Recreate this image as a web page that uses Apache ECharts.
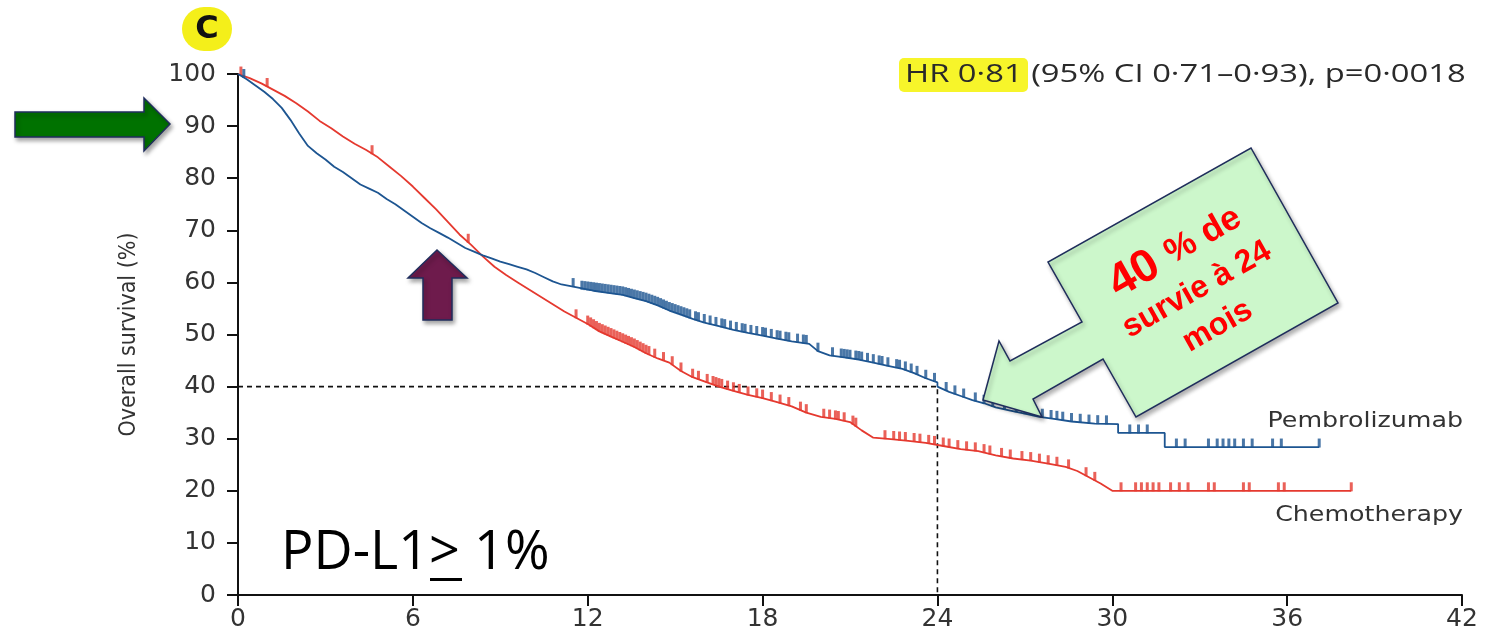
<!DOCTYPE html>
<html>
<head>
<meta charset="utf-8">
<script src="https://cdn.jsdelivr.net/npm/echarts@6/dist/echarts.min.js"></script>
<style>
  html, body { margin: 0; padding: 0; background: #ffffff; }
  #chart { width: 1491px; height: 639px; }
</style>
</head>
<body>
<div id="chart"></div>
<script>
// Kaplan-Meier overall survival, PD-L1 >= 1% population
const xTicks = [0, 6, 12, 18, 24, 30, 36, 42];
const yTicks = [0, 10, 20, 30, 40, 50, 60, 70, 80, 90, 100];

// [month, survival %]; repeated months mark visible vertical drops
const pembroCurve = [
  [0, 100], [0.3, 99], [0.6, 97.8], [0.9, 96.6], [1.2, 95.2], [1.5, 93.5], [1.8, 91.2],
  [2.1, 88.6], [2.4, 86.2], [2.7, 84.8], [3.0, 83.6], [3.3, 82.2], [3.6, 81.2], [3.9, 80.0],
  [4.2, 78.8], [4.5, 78.0], [4.8, 77.2], [5.1, 76.0], [5.4, 75.0], [5.7, 73.8], [6.0, 72.6],
  [6.3, 71.4], [6.6, 70.4], [6.9, 69.5], [7.2, 68.6], [7.5, 67.6], [7.8, 66.6], [8.1, 65.9],
  [8.4, 65.2], [8.7, 64.6], [9.0, 64.0], [9.3, 63.5], [9.6, 63.0], [9.9, 62.5], [10.2, 61.8],
  [10.5, 61.0], [10.8, 60.2], [11.1, 59.6], [11.5, 59.2], [11.5, 58.9], [12.2, 58.4],
  [12.7, 58.0], [13.2, 57.6], [13.6, 57.0], [14.0, 56.4], [14.4, 55.6], [14.8, 54.6],
  [15.2, 53.8], [15.6, 53.0], [16.0, 52.3], [16.5, 51.6], [17.0, 50.9], [17.5, 50.3],
  [18.0, 49.8], [18.5, 49.2], [19.0, 48.7], [19.6, 48.2], [19.9, 46.8], [20.3, 46.0],
  [20.8, 45.6], [21.3, 45.2], [21.8, 44.6], [22.3, 44.0], [22.8, 43.4], [23.2, 42.6],
  [23.6, 41.6], [24.0, 40.8], [24.0, 40.0], [24.4, 39.0], [24.8, 38.2], [25.2, 37.4], [25.6, 36.8],
  [26.0, 36.0], [26.5, 35.4], [27.0, 34.8], [27.5, 34.2], [28.0, 33.8], [28.6, 33.3],
  [29.4, 32.9], [30.2, 32.8], [30.2, 31.1], [31.8, 31.1], [31.8, 28.4], [37.1, 28.4]
];

const chemoCurve = [
  [0, 100], [0.4, 99.2], [0.8, 98.2], [1.2, 97.0], [1.6, 95.8], [2.0, 94.4], [2.4, 92.8],
  [2.8, 91.0], [3.2, 89.6], [3.6, 88.0], [4.0, 86.6], [4.4, 85.4], [4.8, 84.0], [5.2, 82.2],
  [5.6, 80.4], [6.0, 78.4], [6.4, 76.2], [6.8, 74.0], [7.2, 71.6], [7.6, 69.2], [8.0, 67.2],
  [8.4, 65.0], [8.8, 63.0], [9.2, 61.4], [9.6, 60.0], [10.0, 58.6], [10.4, 57.2], [10.8, 55.8],
  [11.2, 54.4], [11.6, 53.2], [12.0, 52.0], [12.4, 50.6], [12.8, 49.6], [13.2, 48.6],
  [13.6, 47.6], [14.0, 46.4], [14.4, 45.4], [14.8, 44.6], [15.2, 43.0], [15.6, 41.8],
  [16.0, 41.0], [16.5, 40.0], [17.0, 39.2], [17.5, 38.4], [18.0, 37.8], [18.5, 37.0],
  [19.0, 36.2], [19.5, 35.0], [20.0, 34.2], [20.5, 33.8], [21.0, 33.2], [21.4, 31.6],
  [21.8, 30.2], [22.4, 29.9], [23.0, 29.6], [23.6, 29.2], [24.2, 28.6], [24.8, 28.0],
  [25.4, 27.6], [26.0, 26.8], [26.6, 26.2], [27.2, 25.8], [27.8, 25.2], [28.4, 24.6],
  [28.8, 23.8], [29.2, 22.6], [29.6, 21.4], [30.0, 20.0], [38.2, 20.0]
];

// censoring times (months)
const pembroCensored = [
  0.2, 11.5, 11.8, 11.9, 12.0, 12.1, 12.2, 12.3, 12.4, 12.5, 12.6, 12.7, 12.8, 12.9, 13.0,
  13.1, 13.2, 13.3, 13.4, 13.5, 13.6, 13.7, 13.8, 13.9, 14.0, 14.1, 14.2, 14.3, 14.4, 14.5,
  14.6, 14.7, 14.8, 14.9, 15.0, 15.1, 15.2, 15.3, 15.4, 15.5, 15.7, 15.8, 16.0, 16.2, 16.4,
  16.6, 16.7, 16.9, 17.1, 17.3, 17.4, 17.6, 17.8, 18.0, 18.1, 18.3, 18.5, 18.6, 18.8, 18.9,
  19.2, 19.4, 19.5, 19.9, 20.4, 20.7, 20.8, 20.9, 21.0, 21.2, 21.3, 21.4, 21.6, 21.8, 22.0,
  22.1, 22.3, 22.6, 22.7, 22.9, 23.1, 23.3, 23.6, 23.9, 24.3, 24.6, 24.9, 25.3, 25.6, 25.9,
  26.3, 26.7, 27.0, 27.3, 27.6, 27.9, 28.1, 28.3, 28.6, 28.9, 29.2, 29.5, 29.8, 30.6, 30.9,
  31.2, 32.2, 32.5, 33.3, 33.6, 33.8, 34.0, 34.2, 34.5, 34.8, 35.5, 35.8, 37.1
];
const chemoCensored = [
  0.1, 1.0, 4.6, 7.9, 11.6, 12.0, 12.1, 12.2, 12.3, 12.4, 12.5, 12.6, 12.7, 12.8, 12.9, 13.0,
  13.1, 13.2, 13.3, 13.4, 13.5, 13.6, 13.7, 13.8, 13.9, 14.0, 14.1, 14.3, 14.6, 14.9, 15.2,
  15.6, 15.8, 16.1, 16.3, 16.4, 16.5, 16.6, 16.8, 17.0, 17.2, 17.5, 17.8, 18.0, 18.3, 18.6,
  18.9, 19.3, 19.5, 20.1, 20.3, 20.5, 20.6, 20.8, 21.1, 21.2, 22.2, 22.5, 22.7, 22.9, 23.2,
  23.4, 23.7, 23.9, 24.2, 24.4, 24.7, 25.0, 25.3, 25.6, 25.8, 26.2, 26.5, 26.9, 27.2, 27.5,
  27.8, 28.1, 28.5, 29.1, 29.4, 30.3, 30.8, 31.0, 31.2, 31.4, 31.6, 32.0, 32.3, 32.6, 33.3,
  33.5, 34.5, 34.7, 35.7, 35.9, 38.2
];

// reference guide: 40 % survival at 24 months
const guideMonth = 24;
const guideSurvival = 40;

const BLUE = '#1d5591';
const RED = '#e5392f';
const NAVY = '#1f2d5c';
const TEXT = '#333333';

// position of a censor mark on the drawn curve at time t
function survivalAt(curve, t) {
  let prev = curve[0];
  for (let i = 1; i < curve.length; i++) {
    const cur = curve[i];
    if (cur[0] >= t) {
      if (cur[0] === prev[0]) return cur[1];
      const f = (t - prev[0]) / (cur[0] - prev[0]);
      return prev[1] + f * (cur[1] - prev[1]);
    }
    prev = cur;
  }
  return prev[1];
}
const censorPoints = (curve, times) => times.map(t => [t, survivalAt(curve, t)]);

const chart = echarts.init(document.getElementById('chart'));

const axisCommon = {
  type: 'value',
  axisLine: { show: true, lineStyle: { color: '#111', width: 2 } },
  axisTick: { show: true, inside: false, length: 11, lineStyle: { color: '#111', width: 2 } },
  splitLine: { show: false },
  axisLabel: { color: TEXT, fontSize: 25, fontFamily: 'DejaVu Sans' }
};

const censorStyle = { type: 'scatter', symbol: 'rect', symbolSize: [3, 9], symbolOffset: [0, -4] };

const option = {
  backgroundColor: '#ffffff',
  animation: false,
  grid: { left: 238, right: 29, top: 74, bottom: 44, containLabel: false },
  xAxis: Object.assign({}, axisCommon, {
    min: xTicks[0], max: xTicks[xTicks.length - 1], interval: 6,
    axisLabel: Object.assign({}, axisCommon.axisLabel, { margin: 12 })
  }),
  yAxis: Object.assign({}, axisCommon, {
    min: yTicks[0], max: yTicks[yTicks.length - 1], interval: 10,
    name: 'Overall survival (%)',
    nameLocation: 'middle',
    nameRotate: 90,
    nameGap: 97,
    nameTextStyle: { color: TEXT, fontSize: 23, fontFamily: 'DejaVu Sans Condensed' },
    axisLabel: Object.assign({}, axisCommon.axisLabel, { margin: 22 })
  }),
  series: [
    {
      name: 'guide', type: 'line', z: 1, symbol: 'none', silent: true,
      data: [[0, guideSurvival], [guideMonth, guideSurvival], [guideMonth, 0]],
      lineStyle: { color: '#111', width: 1.6, type: [5, 4] }
    },
    {
      name: 'Chemotherapy', type: 'line', z: 3, symbol: 'none',
      data: chemoCurve, lineStyle: { color: RED, width: 1.8 }
    },
    {
      name: 'Pembrolizumab', type: 'line', z: 4, symbol: 'none',
      data: pembroCurve, lineStyle: { color: BLUE, width: 1.8 }
    },
    Object.assign({ name: 'Chemotherapy censored', z: 3, itemStyle: { color: RED },
      data: censorPoints(chemoCurve, chemoCensored) }, censorStyle),
    Object.assign({ name: 'Pembrolizumab censored', z: 4, itemStyle: { color: BLUE },
      data: censorPoints(pembroCurve, pembroCensored) }, censorStyle)
  ],
  graphic: [
    // panel letter
    { type: 'rect', shape: { x: 182, y: 7, width: 50, height: 44, r: 22 },
      style: { fill: '#f4ef1a' }, z: 10 },
    { type: 'text', x: 207, y: 30, z: 11,
      style: { text: 'C', font: 'bold 32px "DejaVu Sans"', fill: '#111',
        textAlign: 'center', textVerticalAlign: 'middle' } },

    // hazard ratio
    { type: 'rect', shape: { x: 899, y: 58, width: 129, height: 34, r: 5 },
      style: { fill: '#f7f52a' }, z: 10 },
    { type: 'text', x: 905, y: 75, scaleX: 1.31, z: 11,
      style: { text: 'HR 0·81 (95% CI 0·71–0·93), p=0·0018', font: '25px "Open Sans"', fill: '#2a2a2a',
        textAlign: 'left', textVerticalAlign: 'middle' } },

    // curve labels
    { type: 'text', x: 1463, y: 421, scaleX: 1.15, z: 11,
      style: { text: 'Pembrolizumab', font: '22px "DejaVu Sans"', fill: TEXT,
        textAlign: 'right', textVerticalAlign: 'middle' } },
    { type: 'text', x: 1463, y: 515, scaleX: 1.15, z: 11,
      style: { text: 'Chemotherapy', font: '22px "DejaVu Sans"', fill: TEXT,
        textAlign: 'right', textVerticalAlign: 'middle' } },

    // population label
    { type: 'text', x: 281, y: 554, z: 11,
      style: { text: 'PD-L1> 1%', font: '54px "Open Sans"', fill: '#000',
        textAlign: 'left', textVerticalAlign: 'middle' } },
    { type: 'rect', shape: { x: 430, y: 578, width: 32, height: 3 },
      style: { fill: '#000' }, z: 11 },

    // green arrow toward 90 %
    { type: 'polygon', z: 12,
      shape: { points: [[15, 112], [144, 112], [144, 98], [170, 124], [144, 151], [144, 137], [15, 137]] },
      style: { fill: '#007200', stroke: NAVY, lineWidth: 1.5,
        shadowBlur: 4, shadowOffsetX: 2, shadowOffsetY: 3, shadowColor: 'rgba(0,0,0,0.35)' } },

    // purple arrow at the crossing
    { type: 'polygon', z: 12,
      shape: { points: [[437, 250], [467, 278], [452, 278], [452, 320], [423, 320], [423, 278], [408, 278]] },
      style: { fill: '#6e1b4c', stroke: NAVY, lineWidth: 1.5,
        shadowBlur: 4, shadowOffsetX: 2, shadowOffsetY: 3, shadowColor: 'rgba(0,0,0,0.35)' } },

    // callout pointing to the 24-month value
    { type: 'polygon', z: 12,
      shape: { points: [[983, 400], [999, 341], [1010, 361], [1082, 322], [1048, 262], [1251, 148],
        [1338, 303], [1136, 417], [1103, 359], [1033, 399], [1042, 417]] },
      style: { fill: '#ccf7cb', stroke: NAVY, lineWidth: 1.5,
        shadowBlur: 4, shadowOffsetX: 2, shadowOffsetY: 3, shadowColor: 'rgba(0,0,0,0.3)' } },
    { type: 'text', x: 1196, y: 288, rotation: 29.5 * Math.PI / 180, z: 13,
      style: {
        text: '{a|40 }{b|% de}\n{c|survie à 24}\n{c|mois}',
        textAlign: 'center', textVerticalAlign: 'middle', fill: '#ff0000',
        rich: {
          a: { font: 'bold 46px "Liberation Sans"', fill: '#ff0000', lineHeight: 46 },
          b: { font: 'bold 35px "Liberation Sans"', fill: '#ff0000', lineHeight: 46 },
          c: { font: 'bold 32px "Liberation Sans"', fill: '#ff0000', lineHeight: 42 }
        }
      } }
  ]
};

chart.setOption(option);
</script>
</body>
</html>
